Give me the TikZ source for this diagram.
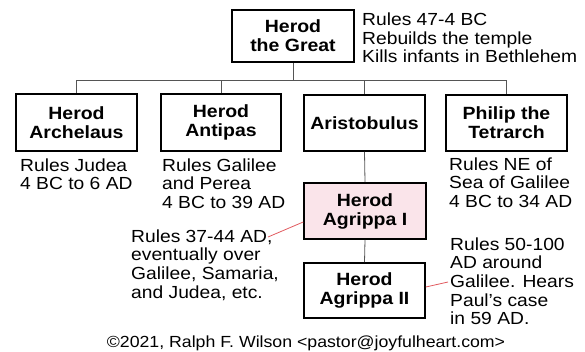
\documentclass[tikz,border=0pt]{standalone}
\usepackage{fontspec}
\setmainfont{Liberation Sans}[FakeStretch=1.1]
\usetikzlibrary{positioning}
\definecolor{agrpink}{RGB}{250,228,234}
\definecolor{linkred}{RGB}{225,90,95}
\definecolor{bargray}{RGB}{85,85,85}

\begin{document}
\begin{tikzpicture}[x=1pt, y=-1pt,
    person/.style={draw=black, line width=1.6pt, minimum width=121pt, minimum height=56pt,
        align=center, inner sep=0pt, font=\fontsize{17.7}{19}\selectfont\bfseries},
    note/.style={anchor=north west, align=left, inner sep=0pt, font=\fontsize{17.5}{18.6}\selectfont},
    tree/.style={bargray, line width=0.8pt},
    link/.style={linkred, line width=0.8pt}]
    \useasboundingbox (0,0) rectangle (585,351);

    % Top of the family
    \node[person, minimum width=122pt, minimum height=52pt] (great) at (293,36) {Herod\\the Great};
    \node[note] (greatnote) at (362,12.8) {Rules 47-4 BC\\Rebuilds the temple\\Kills infants in Bethlehem};

    % Sons
    \node[person, minimum height=57pt] (arch) at (76.5,122.5) {Herod\\Archelaus};
    \node[person, minimum width=120pt, minimum height=57pt] (antipas) at (221,122.5) {Herod\\Antipas};
    \node[person] (aristo) at (364.5,123) {Aristobulus};
    \node[person] (philip) at (506.5,123) {Philip the\\Tetrarch};

    \node[note] (archnote) at (20,158.2) {Rules Judea\\4 BC to 6 AD};
    \node[note] (antipasnote) at (162,158.5) {Rules Galilee\\and Perea\\4 BC to 39 AD};
    \node[note] (philipnote) at (449,157.5) {Rules NE of\\Sea of Galilee\\4 BC to 34 AD};

    % Tree lines
    \coordinate (bus) at (0,80);
    \draw[tree] (great.south) -- (great.south |- bus);
    \draw[tree] (arch.north) -- (arch.north |- bus) -- (philip.north |- bus) -- (philip.north);
    \foreach \n in {antipas, aristo} {
        \draw[tree] (\n.north) -- (\n.north |- bus);
    }

    % Grandson and great-grandson
    \node[person, fill=agrpink, minimum width=122pt] (agr1) at (365,211) {Herod\\Agrippa I};
    \node[person, minimum height=55pt] (agr2) at (364.5,290.5) {Herod\\Agrippa II};
    \draw[tree] (aristo.south) -- (agr1.north);
    \draw[tree] (agr1.south) -- (agr2.north);

    \node[note] (agr1note) at (131,229.5) {Rules 37-44 AD,\\eventually over\\Galilee, Samaria,\\and Judea, etc.};
    \node[note] (agr2note) at (450,237.5) {Rules 50-100\\AD around\\Galilee. Hears\\Paul’s case\\in 59 AD.};

    \coordinate (agr1end) at (268,237);
    \coordinate (agr2end) at (448,282);
    \draw[link] ([yshift=-11pt]agr1.west) -- (agr1end);
    \draw[link] ([yshift=3.5pt]agr2.east) -- (agr2end);

    % Credit line
    \node[anchor=base, inner sep=0pt, font=\fontsize{16.1}{18.6}\selectfont] (credit) at (306,347)
        {©2021, Ralph F. Wilson <pastor@joyfulheart.com>};
\end{tikzpicture}
\end{document}
